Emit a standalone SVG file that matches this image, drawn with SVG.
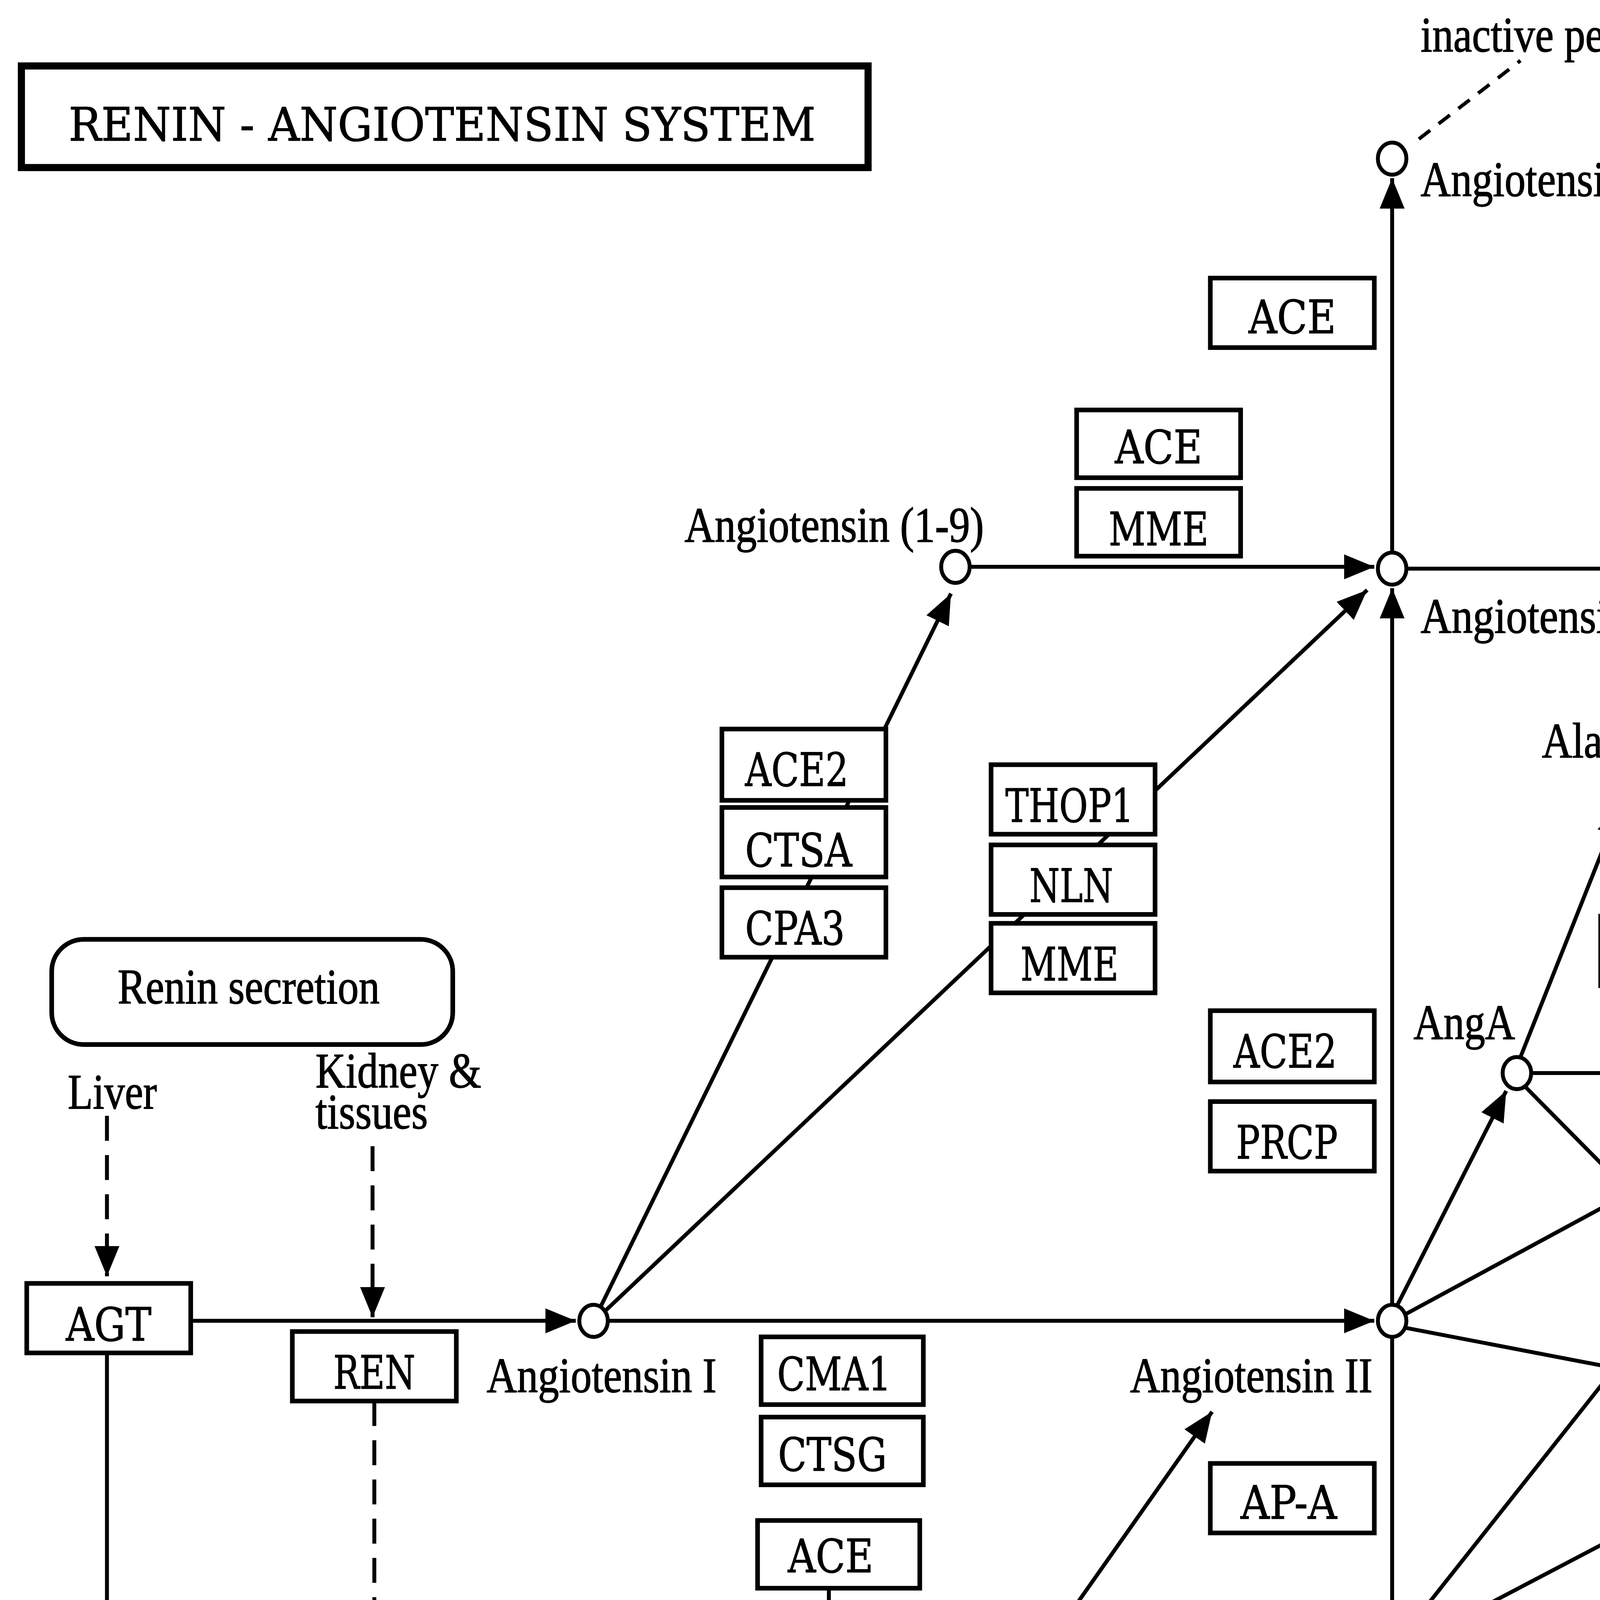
<svg xmlns="http://www.w3.org/2000/svg" width="6936" height="7145" viewBox="0 0 6936 7145">
<style>
.ln{stroke:#000;stroke-width:2.2;fill:none}
.dl{stroke:#000;stroke-width:2.2;fill:none;stroke-dasharray:14 8}
.ds{stroke:#000;stroke-width:2;fill:none;stroke-dasharray:8 6}
.mem{stroke:#000;stroke-width:7;fill:none}
.box{fill:#fff;stroke:#000;stroke-width:2.6}
.rbox{fill:#fff;stroke:#000;stroke-width:2.6}
.cpd{fill:#fff;stroke:#000;stroke-width:2.2}
.t{font-family:"Liberation Serif",serif;font-size:28px;fill:#000;stroke:#000;stroke-width:0.4}
.e{font-family:"Liberation Serif",serif;font-size:27px;fill:#000;stroke:#000;stroke-width:0.4}
.g{font-family:"DejaVu Serif",serif;font-size:26px;fill:#000;text-anchor:middle;stroke:#000;stroke-width:0.35}
.h{font-family:"Liberation Sans",sans-serif;font-weight:bold;font-size:47px;fill:#000;stroke:#000;stroke-width:0.8}
</style>
<defs>
<marker id="a" viewBox="0 0 17 14" refX="17" refY="7" markerWidth="17" markerHeight="14" markerUnits="userSpaceOnUse" orient="auto">
<path d="M0,0 L17,7 L0,14 z" fill="#000"/>
</marker>
</defs>
<rect width="6936" height="7145" fill="#fff"/>
<g transform="scale(4.5632)">
<g id="title">
<rect x="12" y="37" width="475" height="57" fill="#fff" stroke="#000" stroke-width="4"/>
<text class="g" x="248" y="79" font-size="31" textLength="419" lengthAdjust="spacingAndGlyphs">RENIN - ANGIOTENSIN  SYSTEM</text>
</g>
<g id="pathview-label">
<text class="h" x="1133" y="86" textLength="282" lengthAdjust="spacingAndGlyphs">Data on KEGG graph</text>
<text class="h" x="1133" y="136" textLength="301" lengthAdjust="spacingAndGlyphs">Rendered by Pathview</text>
<line x1="1127" y1="141.5" x2="1437" y2="141.5" stroke="#555" stroke-width="1.5"/>
</g>
<g id="membrane">
<line class="mem" x1="1044" y1="52" x2="1044" y2="1522"/>
<line class="mem" x1="1098" y1="52" x2="1098" y2="1522"/>
</g>
<g id="connectors">
<path class="ln" d="M107,741 H323" marker-end="url(#a)"/>
<path class="ln" d="M341,741 H771" marker-end="url(#a)"/>
<path class="ln" d="M781,732 V330" marker-end="url(#a)"/>
<path class="ln" d="M781,310 V100" marker-end="url(#a)"/>
<path class="ln" d="M544,318 H771" marker-end="url(#a)"/>
<path class="ln" d="M789,319 H1021" marker-end="url(#a)"/>
<path class="ln" d="M337,733 L533.5,333" marker-end="url(#a)"/>
<path class="ln" d="M340,735 L767,331" marker-end="url(#a)"/>
<path class="ln" d="M781,750 V915" marker-end="url(#a)"/>
<path class="ln" d="M781,936 V1097" marker-end="url(#a)"/>
<path class="ln" d="M781,1120 V1207" marker-end="url(#a)"/>
<path class="ln" d="M781,1230 V1316" marker-end="url(#a)"/>
<path class="ln" d="M789,1111 H1021" marker-end="url(#a)"/>
<path class="ln" d="M922,442 H1021" marker-end="url(#a)"/>
<path class="ln" d="M859,602 H1021" marker-end="url(#a)"/>
<path class="ln" d="M853,593 L909,452" marker-end="url(#a)"/>
<path class="ln" d="M784,732 L845,612" marker-end="url(#a)"/>
<path class="ln" d="M856,610 L1018,774" marker-end="url(#a)"/>
<path class="ln" d="M789,737 L1018,613" marker-end="url(#a)"/>
<path class="ln" d="M789,745 L1018,789" marker-end="url(#a)"/>
<path class="ln" d="M786,919 L1018,626" marker-end="url(#a)"/>
<path class="ln" d="M789,924 L1018,804" marker-end="url(#a)"/>
<path class="ln" d="M60,759 V932 Q60,950 78,950 H562 Q569,950 575,941 L680,792" marker-end="url(#a)"/>
<path class="dl" d="M60,626 V716" marker-end="url(#a)"/>
<path class="dl" d="M209,643 V739" marker-end="url(#a)"/>
<path class="dl" d="M210,786 V1394 Q210,1411 228,1411 H1019" marker-end="url(#a)"/>
<path class="dl" d="M465,891 V1015" marker-end="url(#a)"/>
<path class="dl" d="M465,1072 V1147" marker-end="url(#a)"/>
<path class="dl" d="M1115,319.5 H1193" marker-end="url(#a)"/>
<path class="dl" d="M1115,441.5 H1193" marker-end="url(#a)"/>
<path class="dl" d="M1115,604.5 H1193" marker-end="url(#a)"/>
<path class="dl" d="M1115,795.5 H1193" marker-end="url(#a)"/>
<path class="dl" d="M1115,1109.5 H1193" marker-end="url(#a)"/>
<path class="dl" d="M1115,1412.5 H1193" marker-end="url(#a)"/>
<path class="ds" d="M796,78 L853,34"/>
<path class="ds" d="M798,1219 L850,1243"/>
<path class="ds" d="M798,1318 L858,1276"/>
</g>
<g id="AGT"><rect class="box" x="15" y="720" width="92" height="39"/><text class="g" x="61" y="752" textLength="48" lengthAdjust="spacingAndGlyphs">AGT</text></g>
<g id="REN"><rect class="box" x="164" y="747" width="92" height="39"/><text class="g" x="210" y="779" textLength="46" lengthAdjust="spacingAndGlyphs">REN</text></g>
<g id="ACE-1"><rect class="box" x="679" y="156" width="92" height="39"/><text class="g" x="725" y="187" textLength="49" lengthAdjust="spacingAndGlyphs">ACE</text></g>
<g id="ACE-2"><rect class="box" x="604" y="230" width="92" height="38"/><text class="g" x="650" y="260" textLength="49" lengthAdjust="spacingAndGlyphs">ACE</text></g>
<g id="MME-1"><rect class="box" x="604" y="274" width="92" height="38"/><text class="g" x="650" y="306" textLength="56" lengthAdjust="spacingAndGlyphs">MME</text></g>
<g id="ACE2-1"><rect class="box" x="405" y="409" width="92" height="40"/><text class="g" x="447" y="441" textLength="58" lengthAdjust="spacingAndGlyphs">ACE2</text></g>
<g id="CTSA"><rect class="box" x="405" y="453" width="92" height="39"/><text class="g" x="448" y="486" textLength="60" lengthAdjust="spacingAndGlyphs">CTSA</text></g>
<g id="CPA3"><rect class="box" x="405" y="498" width="92" height="39"/><text class="g" x="446" y="530" textLength="56" lengthAdjust="spacingAndGlyphs">CPA3</text></g>
<g id="THOP1"><rect class="box" x="556" y="429" width="92" height="39"/><text class="g" x="600" y="461" textLength="72" lengthAdjust="spacingAndGlyphs">THOP1</text></g>
<g id="NLN"><rect class="box" x="556" y="474" width="92" height="39"/><text class="g" x="601" y="506" textLength="47" lengthAdjust="spacingAndGlyphs">NLN</text></g>
<g id="MME-2"><rect class="box" x="556" y="518" width="92" height="39"/><text class="g" x="600" y="550" textLength="55" lengthAdjust="spacingAndGlyphs">MME</text></g>
<g id="ACE2-2"><rect class="box" x="679" y="567" width="92" height="40"/><text class="g" x="721" y="599" textLength="58" lengthAdjust="spacingAndGlyphs">ACE2</text></g>
<g id="PRCP"><rect class="box" x="679" y="618" width="92" height="39"/><text class="g" x="722" y="650" textLength="57" lengthAdjust="spacingAndGlyphs">PRCP</text></g>
<g id="ACE2-3"><rect class="box" x="898" y="514" width="91" height="39"/><text class="g" x="943" y="545" textLength="60" lengthAdjust="spacingAndGlyphs">ACE2</text></g>
<g id="CMA1"><rect class="box" x="427" y="750" width="91" height="38"/><text class="g" x="468" y="780" textLength="64" lengthAdjust="spacingAndGlyphs">CMA1</text></g>
<g id="CTSG-1"><rect class="box" x="427" y="795" width="91" height="38"/><text class="g" x="467" y="825" textLength="61" lengthAdjust="spacingAndGlyphs">CTSG</text></g>
<g id="ACE-3"><rect class="box" x="425" y="853" width="91" height="38"/><text class="g" x="466" y="882" textLength="48" lengthAdjust="spacingAndGlyphs">ACE</text></g>
<g id="Tonin"><rect class="box" x="271" y="963" width="92" height="39"/><text class="g" x="317" y="992" textLength="56" lengthAdjust="spacingAndGlyphs">Tonin</text></g>
<g id="CTSG-2"><rect class="box" x="271" y="1012" width="92" height="39"/><text class="g" x="315" y="1042" textLength="60" lengthAdjust="spacingAndGlyphs">CTSG</text></g>
<g id="AP-A"><rect class="box" x="679" y="821" width="92" height="39"/><text class="g" x="723" y="852" textLength="54" lengthAdjust="spacingAndGlyphs">AP-A</text></g>
<g id="AP-N-1"><rect class="box" x="679" y="990" width="92" height="39"/><text class="g" x="723" y="1021" textLength="56" lengthAdjust="spacingAndGlyphs">AP-N</text></g>
<g id="AP-N-2"><rect class="box" x="679" y="1137" width="92" height="38"/><text class="g" x="723" y="1167" textLength="56" lengthAdjust="spacingAndGlyphs">AP-N</text></g>
<g id="PREP"><rect class="box" x="679" y="1245" width="92" height="39"/><text class="g" x="723" y="1275" textLength="57" lengthAdjust="spacingAndGlyphs">PREP</text></g>
<g id="MAS1"><rect class="box" x="1023" y="300" width="92" height="39"/><text class="g" x="1068" y="330" textLength="60" lengthAdjust="spacingAndGlyphs">MAS1</text></g>
<g id="MRGPRD"><rect class="box" x="1023" y="422" width="92" height="39"/><text class="g" x="1069" y="455" textLength="88" lengthAdjust="spacingAndGlyphs">MRGPRD</text></g>
<g id="AGTR2"><rect class="box" x="1023" y="585" width="92" height="39"/><text class="g" x="1068" y="615" textLength="75" lengthAdjust="spacingAndGlyphs">AGTR2</text></g>
<g id="AGTR1"><rect class="box" x="1023" y="776" width="92" height="39"/><text class="g" x="1068" y="807" textLength="73" lengthAdjust="spacingAndGlyphs">AGTR1</text></g>
<g id="IRAP"><rect class="box" x="1023" y="1090" width="92" height="39"/><text class="g" x="1069" y="1120" textLength="55" lengthAdjust="spacingAndGlyphs">IRAP</text></g>
<g id="PRR"><rect class="box" x="1023" y="1393" width="92" height="39"/><text class="g" x="1068" y="1423" textLength="49" lengthAdjust="spacingAndGlyphs">PRR</text></g>
<g id="renin-secretion"><rect class="rbox" x="29" y="527" width="225" height="59" rx="18"/><text class="t" x="66" y="563" textLength="147" lengthAdjust="spacingAndGlyphs">Renin secretion</text></g>
<g id="vascular-smooth-muscle"><rect class="rbox" x="1218" y="828" width="253" height="81" rx="20"/><text class="t" x="1263" y="866" textLength="153" lengthAdjust="spacingAndGlyphs">Vascular smooth</text><text class="t" x="1250" y="890" textLength="179" lengthAdjust="spacingAndGlyphs">muscle contraction</text></g>
<g id="aldosterone"><rect class="rbox" x="1218" y="916" width="253" height="81" rx="20"/><text class="t" x="1239" y="957" textLength="208" lengthAdjust="spacingAndGlyphs">Aldosterone synthesis</text><text class="t" x="1280" y="981" textLength="125" lengthAdjust="spacingAndGlyphs">and secretion</text></g>
<g id="complement"><rect class="rbox" x="327" y="1206" width="253" height="81" rx="20"/><text class="t" x="374" y="1242" textLength="162" lengthAdjust="spacingAndGlyphs">Complement and</text><text class="t" x="356" y="1267" textLength="200" lengthAdjust="spacingAndGlyphs">coagulation cascades</text></g>
<g id="ang1-5"><ellipse class="cpd" cx="781" cy="89" rx="8" ry="9"/><text class="t" x="797" y="110" textLength="168" lengthAdjust="spacingAndGlyphs">Angiotensin (1-5)</text></g>
<g id="ang1-7"><ellipse class="cpd" cx="781" cy="319" rx="8" ry="9"/><text class="t" x="797" y="355" textLength="171" lengthAdjust="spacingAndGlyphs">Angiotensin (1-7)</text></g>
<g id="ang1-9"><ellipse class="cpd" cx="536" cy="318" rx="8" ry="9"/><text class="t" x="384" y="304" textLength="168" lengthAdjust="spacingAndGlyphs">Angiotensin (1-9)</text></g>
<g id="angI"><ellipse class="cpd" cx="333" cy="741" rx="8" ry="9"/><text class="t" x="273" y="781" textLength="129" lengthAdjust="spacingAndGlyphs">Angiotensin I</text></g>
<g id="angII"><ellipse class="cpd" cx="781" cy="741" rx="8" ry="9"/><text class="t" x="634" y="781" textLength="136" lengthAdjust="spacingAndGlyphs">Angiotensin II</text></g>
<g id="angIII"><ellipse class="cpd" cx="781" cy="927" rx="8" ry="9"/><text class="t" x="618" y="938" textLength="144" lengthAdjust="spacingAndGlyphs">Angiotensin III</text></g>
<g id="angIV"><ellipse class="cpd" cx="781" cy="1111" rx="8" ry="9"/><text class="t" x="618" y="1119" textLength="144" lengthAdjust="spacingAndGlyphs">Angiotensin IV</text></g>
<g id="ang5-8"><ellipse class="cpd" cx="781" cy="1221" rx="8" ry="9"/><text class="t" x="594" y="1228" textLength="169" lengthAdjust="spacingAndGlyphs">Angiotensin (5-8)</text></g>
<g id="ang5-7"><ellipse class="cpd" cx="781" cy="1330" rx="8" ry="9"/><text class="t" x="597" y="1337" textLength="169" lengthAdjust="spacingAndGlyphs">Angiotensin (5-7)</text></g>
<g id="alamandine"><ellipse class="cpd" cx="914" cy="442" rx="8" ry="9"/><text class="t" x="865" y="425" textLength="115" lengthAdjust="spacingAndGlyphs">Alamandine</text></g>
<g id="angA"><ellipse class="cpd" cx="851" cy="602" rx="8" ry="9"/><text class="t" x="793" y="583" textLength="57" lengthAdjust="spacingAndGlyphs">AngA</text></g>
<g id="labels">
<text class="t" x="797" y="29" textLength="150" lengthAdjust="spacingAndGlyphs">inactive peptide</text>
<text class="t" x="817" y="1266" textLength="159" lengthAdjust="spacingAndGlyphs">inactive peptides</text>
<text class="t" x="38" y="622" textLength="50" lengthAdjust="spacingAndGlyphs">Liver</text>
<text class="t" x="177" y="610" textLength="93" lengthAdjust="spacingAndGlyphs">Kidney &amp;</text>
<text class="t" x="177" y="633" textLength="63" lengthAdjust="spacingAndGlyphs">tissues</text>
<text class="t" x="404" y="1042" textLength="146" lengthAdjust="spacingAndGlyphs">Degradation of</text>
<text class="t" x="404" y="1066" textLength="102" lengthAdjust="spacingAndGlyphs">bradykinin</text>
<text class="t" x="404" y="1171" textLength="93" lengthAdjust="spacingAndGlyphs">Enhanced</text>
<text class="t" x="404" y="1195" textLength="154" lengthAdjust="spacingAndGlyphs">vasoconstriction</text>
<text class="t" x="376" y="1315" textLength="152" lengthAdjust="spacingAndGlyphs">Kallikrein-kinin</text>
<text class="t" x="376" y="1339" textLength="64" lengthAdjust="spacingAndGlyphs">system</text>
<text x="743" y="1552" font-family="Liberation Serif, serif" font-weight="bold" font-size="28" textLength="33" lengthAdjust="spacingAndGlyphs">(B)</text>
</g>
<g id="effects">
<text class="e" x="1203" y="303" textLength="249" lengthAdjust="spacingAndGlyphs">Vasodilation, Antifibrosis,</text>
<text class="e" x="1203" y="332" textLength="217" lengthAdjust="spacingAndGlyphs">Apoptosis, Natriuresis,</text>
<text class="e" x="1203" y="362" textLength="176" lengthAdjust="spacingAndGlyphs">Anti-inflammation</text>
<text class="e" x="1203" y="439" textLength="117" lengthAdjust="spacingAndGlyphs">Vasodilation</text>
<text class="e" x="1203" y="468" textLength="112" lengthAdjust="spacingAndGlyphs">Antifibrosis</text>
<text class="e" x="1203" y="585" textLength="249" lengthAdjust="spacingAndGlyphs">Vasodilation, Antifibrosis,</text>
<text class="e" x="1203" y="615" textLength="217" lengthAdjust="spacingAndGlyphs">Apoptosis, Natriuresis,</text>
<text class="e" x="1203" y="647" textLength="176" lengthAdjust="spacingAndGlyphs">Anti-inflammation</text>
<text class="e" x="1203" y="743" textLength="305" lengthAdjust="spacingAndGlyphs">Vasoconstriction, Inflammation,</text>
<text class="e" x="1203" y="768" textLength="234" lengthAdjust="spacingAndGlyphs">Fibrosis, Antinatriuresis,</text>
<text class="e" x="1203" y="792" textLength="157" lengthAdjust="spacingAndGlyphs">ROS generation,</text>
<text class="e" x="1203" y="817" textLength="25" lengthAdjust="spacingAndGlyphs">Na</text>
<text class="e" x="1228" y="805" font-size="16">+</text>
<text class="e" x="1241" y="817" textLength="184" lengthAdjust="spacingAndGlyphs">and water retention</text>
<text class="e" x="1203" y="1099" textLength="305" lengthAdjust="spacingAndGlyphs">Vasoconstriction, Inflammation,</text>
<text class="e" x="1203" y="1125" textLength="157" lengthAdjust="spacingAndGlyphs">ROS generation,</text>
<text class="e" x="1203" y="1148" textLength="25" lengthAdjust="spacingAndGlyphs">Na</text>
<text class="e" x="1228" y="1136" font-size="16">+</text>
<text class="e" x="1241" y="1148" textLength="184" lengthAdjust="spacingAndGlyphs">and water retention</text>
<text class="e" x="1203" y="1414" textLength="168" lengthAdjust="spacingAndGlyphs">Protein synthesis,</text>
<text class="e" x="1203" y="1437" textLength="255" lengthAdjust="spacingAndGlyphs">antiapoptosis, proliferation</text>
</g>
</g>
</svg>
